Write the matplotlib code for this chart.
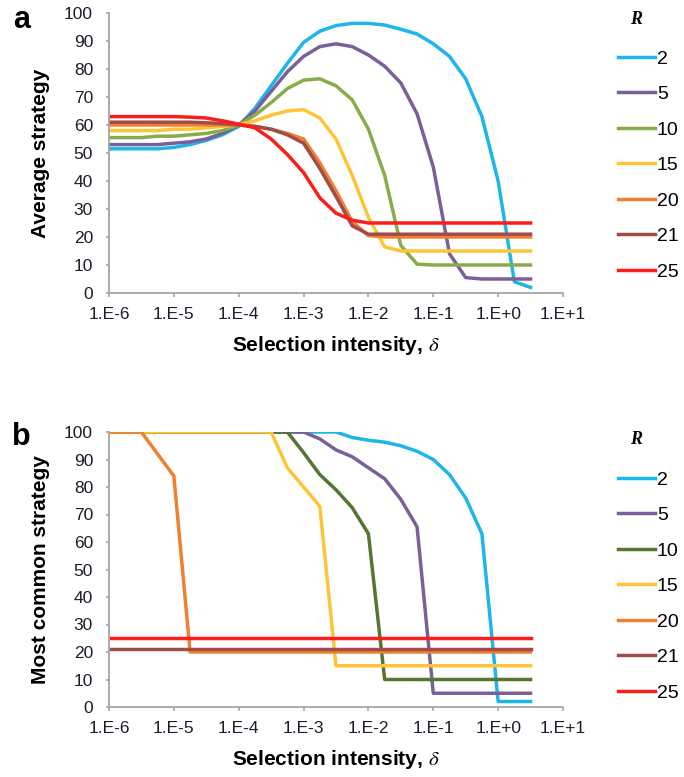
import matplotlib
matplotlib.use("Agg")
import matplotlib.pyplot as plt

plt.rcParams['font.family'] = 'Liberation Sans'
plt.rcParams['mathtext.fontset'] = 'stix'

## values (quarter-decade grid of delta)
delta = [1e-6, 1.78e-6, 3.16e-6, 5.62e-6, 1e-5, 1.78e-5, 3.16e-5, 5.62e-5,
         1e-4, 1.78e-4, 3.16e-4, 5.62e-4, 1e-3, 1.78e-3, 3.16e-3, 5.62e-3,
         1e-2, 1.78e-2, 3.16e-2, 5.62e-2, 1e-1, 0.178, 0.316, 0.562,
         1.0, 1.78, 3.16]

R_labels = ["2", "5", "10", "15", "20", "21", "25"]

# panel a: average strategy
avg_r2 = [51.5, 51.5, 51.5, 51.5, 52, 53, 54.5, 56.5, 59.5, 66, 74, 82, 89.5, 93.5,
          95.5, 96.3, 96.3, 95.7, 94.2, 92.5, 89, 84.5, 76.5, 63, 40, 4, 2]
avg_r5 = [53, 53, 53, 53, 53.5, 54, 55, 57, 60, 65, 72, 79, 84.5, 88,
          89, 88, 85, 81, 75, 64, 45, 14, 5.5, 5, 5, 5, 5]
avg_r10 = [55.5, 55.5, 55.5, 56, 56, 56.5, 57, 58, 60, 63.5, 68, 73, 76, 76.5,
           74, 69, 58.5, 42, 17, 10.3, 10, 10, 10, 10, 10, 10, 10]
avg_r15 = [58, 58, 58, 58, 58.5, 58.5, 59, 59.5, 60, 61.5, 63.5, 65, 65.5, 62.5,
           55, 42, 27, 16.5, 15, 15, 15, 15, 15, 15, 15, 15, 15]
avg_r20 = [60, 60, 60, 60, 60, 60, 60, 60, 60, 59.5, 58.5, 57, 55, 46.5,
           36.5, 25.5, 20.5, 20, 20, 20, 20, 20, 20, 20, 20, 20, 20]
avg_r21 = [61, 61, 61, 61, 61, 61, 60.8, 60.5, 60, 59.5, 58.5, 56.5, 53.5, 44.5,
           34.5, 24, 21, 21, 21, 21, 21, 21, 21, 21, 21, 21, 21]
avg_r25 = [63, 63, 63, 63, 63, 62.8, 62.5, 61.5, 60.3, 59, 55, 49.5, 43, 34,
           28.5, 26, 25, 25, 25, 25, 25, 25, 25, 25, 25, 25, 25]

# panel b: most common strategy
mode_r2 = [100, 100, 100, 100, 100, 100, 100, 100, 100, 100, 100, 100, 100, 100,
           100, 98, 97, 96.3, 95, 93, 90, 84.5, 76, 63, 2, 2, 2]
mode_r5 = [100, 100, 100, 100, 100, 100, 100, 100, 100, 100, 100, 100, 100, 97.5,
           93.5, 91, 87, 83, 75.5, 65.5, 5, 5, 5, 5, 5, 5, 5]
mode_r10 = [100, 100, 100, 100, 100, 100, 100, 100, 100, 100, 100, 100, 92.5, 84.5,
            79, 72.5, 63, 10, 10, 10, 10, 10, 10, 10, 10, 10, 10]
mode_r15 = [100, 100, 100, 100, 100, 100, 100, 100, 100, 100, 100, 87, 80, 73,
            15, 15, 15, 15, 15, 15, 15, 15, 15, 15, 15, 15, 15]
mode_r20 = [100, 100, 100, 92, 84, 20, 20, 20, 20, 20, 20, 20, 20, 20,
            20, 20, 20, 20, 20, 20, 20, 20, 20, 20, 20, 20, 20]
mode_r21 = [21] * 27
mode_r25 = [25] * 27

avg_series = [avg_r2, avg_r5, avg_r10, avg_r15, avg_r20, avg_r21, avg_r25]
mode_series = [mode_r2, mode_r5, mode_r10, mode_r15, mode_r20, mode_r21, mode_r25]

colors_a = ["#1db6ea", "#7a5f98", "#8aab4a", "#fdc535", "#f08030", "#a04d4a", "#fb1c1c"]
colors_b = ["#1db6ea", "#7a5f98", "#557530", "#fdc535", "#f08030", "#a04d4a", "#fb1c1c"]

xticks = [1e-6, 1e-5, 1e-4, 1e-3, 1e-2, 1e-1, 1e0, 1e1]
xticklabels = ["1.E-6", "1.E-5", "1.E-4", "1.E-3", "1.E-2", "1.E-1", "1.E+0", "1.E+1"]

W, H = 684, 777
fig = plt.figure(figsize=(W / 100, H / 100), dpi=100)

def px_axes(left, top, right, bottom):
    return fig.add_axes([left / W, 1 - bottom / H, (right - left) / W, (bottom - top) / H])

ax_a = px_axes(109, 13, 563, 293)
ax_b = px_axes(109, 432, 563, 707)

spine_col = "#a6a6a6"
for ax, series, cols, ylab, leg_top, r_y in [
        (ax_a, avg_series, colors_a, "Average strategy", 50, 20),
        (ax_b, mode_series, colors_b, "Most common strategy", 471, 439)]:
    handles = []
    for vals, c in zip(series, cols):
        h, = ax.plot(delta, vals, color=c, lw=2.5, solid_joinstyle="round")
        handles.append(h)
    ax.set_xscale("log")
    ax.set_xlim(1e-6, 1e1)
    ax.set_ylim(0, 100)
    ax.set_xticks(xticks)
    ax.set_xticklabels(xticklabels)
    ax.minorticks_off()
    ax.set_yticks(range(0, 101, 10))
    for s in ["top", "right"]:
        ax.spines[s].set_visible(False)
    for s in ["left", "bottom"]:
        ax.spines[s].set_color(spine_col)
        ax.spines[s].set_linewidth(1.3)
    ax.tick_params(axis="y", direction="out", length=2.5, width=1.2, color=spine_col,
                   pad=9, labelsize=12.5, labelcolor="#1c1c2a")
    ax.tick_params(axis="x", direction="out", length=3, width=1.2, color=spine_col,
                   pad=7, labelsize=12.5, labelcolor="#1c1c2a")
    ax.set_xlabel("Selection intensity, $\\delta$", fontsize=15, fontweight="bold", labelpad=9)
    ax.set_ylabel(ylab, fontsize=15, fontweight="bold")
    ax.yaxis.set_label_coords(-0.13, 0.5)
    ax.legend(handles, R_labels, loc="upper left", bbox_to_anchor=(618 / W, 1 - leg_top / H),
              bbox_transform=fig.transFigure, frameon=False, handlelength=1.9,
              handletextpad=0.1, labelspacing=0.92, fontsize=14, borderpad=0,
              borderaxespad=0)
    fig.text(636 / W, 1 - r_y / H, "R", family="Liberation Serif", style="italic",
             fontweight="bold", fontsize=13, ha="center", va="center")

fig.text(13 / W, 1 - 28 / H, "a", fontsize=22, fontweight="bold", va="baseline")
fig.text(12 / W, 1 - 445 / H, "b", fontsize=22, fontweight="bold", va="baseline")

fig.savefig("out.png", dpi=100)
